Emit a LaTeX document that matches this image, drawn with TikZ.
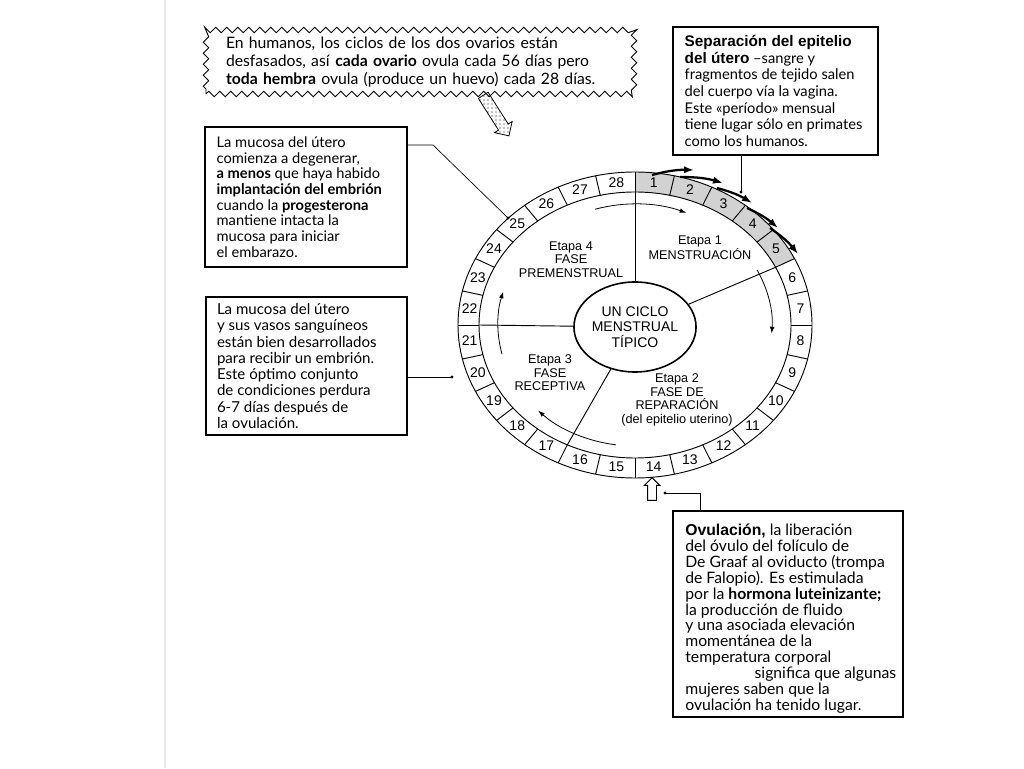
\documentclass[tikz,border=0pt]{standalone}
\usepackage{fontspec}
\setmainfont{Lato}
\newfontfamily\arialf{Liberation Sans}
\usetikzlibrary{shapes.geometric,shapes.arrows,patterns,decorations.pathmorphing,arrows.meta}
\begin{document}
\begin{tikzpicture}[x=0.75pt,y=0.75pt,
 ring/.style={line width=0.7pt},
 frame/.style={draw, line width=0.9pt, inner sep=0pt},
 boxtxt/.style={inner sep=0pt, align=left, anchor=west},
 daynum/.style={font=\arialf\fontsize{10.5}{12}\selectfont, inner sep=0pt},
 lbl/.style={font=\arialf\fontsize{9.5}{10.2}\selectfont, align=center, inner sep=0pt},
 inarrow/.style={line width=0.6pt, -{Latex[length=5pt,width=3.5pt]}},
 blkarrow/.style={line width=1.7pt, -{Latex[length=7.5pt,width=5.5pt]}},
 conn/.style={line width=0.5pt},
 hollow/.style={single arrow, draw, line width=0.7pt, inner xsep=0pt, single arrow head extend=2.5pt}
]
\fill[white] (0,0) rectangle (1024,768);
\useasboundingbox (0,0) rectangle (1024,768);
\draw[gray!18, line width=1pt] (165,0) -- (165,768);

% ---------- ring ----------
\coordinate (C) at (635,443);
\fill[gray!35] ([shift={(90:177 and 153)}]C) arc[start angle=90, end angle=25.714, x radius=177, y radius=153]
  -- ([shift={(25.714:156 and 133)}]C) arc[start angle=25.714, end angle=90, x radius=156, y radius=133] -- cycle;
\draw[ring] (C) ellipse [x radius=177, y radius=153];
\draw[ring] (C) ellipse [x radius=156, y radius=133];
\foreach \k in {0,...,27} {
  \pgfmathsetmacro\t{90-\k*360/28}
  \draw[ring] ([shift={(\t:156 and 133)}]C) -- ([shift={(\t:177 and 153)}]C);
}
\foreach \k in {1,...,28} {
  \pgfmathsetmacro\t{90-(\k-0.5)*360/28}
  \node[daynum] (d\k) at ([shift={(\t:166.5 and 143)}]C) {\k};
}

% ---------- centre and spokes ----------
\node[ellipse, draw, line width=1.2pt, minimum width=83pt, minimum height=67.5pt, inner sep=0pt,
      align=center, font=\arialf\fontsize{10.5}{11.6}\selectfont, fill=white] (ctr) at (635,441)
      {UN CICLO\\MENSTRUAL\\TÍPICO};
\coordinate (s1) at ([shift={(90:156 and 133)}]C);
\coordinate (s2) at ([shift={(25.714:156 and 133)}]C);
\coordinate (s3) at ([shift={(-115.714:156 and 133)}]C);
\coordinate (s4) at ([shift={(180:156 and 133)}]C);
\foreach \s in {s1,s2,s3,s4} { \draw[ring] (ctr) -- (\s); }

% ---------- stage labels ----------
\node[lbl] (e1) at (700,520) {Etapa 1\\MENSTRUACIÓN};
\node[lbl] (e2) at (677,368) {Etapa 2\\FASE DE\\REPARACIÓN\\(del epitelio uterino)};
\node[lbl] (e3) at (550,395) {Etapa 3\\FASE\\RECEPTIVA};
\node[lbl] (e4) at (571,508.5) {Etapa 4\\FASE\\PREMENSTRUAL};

% ---------- inner arrows ----------
\draw[inarrow] ([shift={(107:137 and 121)}]C) arc[start angle=107, end angle=68, x radius=137, y radius=121];
\draw[inarrow] ([shift={(27:137 and 121)}]C) arc[start angle=27, end angle=-4, x radius=137, y radius=121];
\draw[inarrow] ([shift={(-98:137 and 121)}]C) arc[start angle=-98, end angle=-135, x radius=137, y radius=121];
\draw[inarrow] ([shift={(194:137 and 121)}]C) arc[start angle=194, end angle=164, x radius=137, y radius=121];

% ---------- black flow arrows (days 1-5) ----------
\coordinate (a1s) at (652,593); \coordinate (a1e) at (694,598);
\coordinate (a2s) at (680,591); \coordinate (a2e) at (723,585);
\coordinate (a3s) at (717,580); \coordinate (a3e) at (752,565);
\coordinate (a4s) at (747,560); \coordinate (a4e) at (778,540);
\coordinate (a5s) at (770,540); \coordinate (a5e) at (798,514);
\foreach \i in {1,...,5} { \draw[blkarrow] (a\i s) to[bend left=8] (a\i e); }

% ---------- speech bubble ----------
\node[draw, line width=0.7pt, decorate, decoration={zigzag, segment length=8.25pt, amplitude=2pt},
      minimum width=321pt, minimum height=48pt, inner xsep=15pt, inner ysep=0pt,
      text width=291pt, align=left, font={\fontsize{11.8}{13.5}\selectfont\lineskiplimit=-5pt}] (bub) at (420,706)
 {En humanos, los ciclos de los dos ovarios están\\
  desfasados, así \textbf{cada ovario} ovula cada 56 días pero\\
  \textbf{toda hembra} ovula (produce un huevo) cada 28 días.};
\node[single arrow, draw, line width=0.6pt, pattern=dots, rotate=-57.6, minimum height=36pt,
      inner ysep=4pt, inner xsep=0pt, single arrow head extend=3.5pt, anchor=tail] (bubarr) at (483,673) {};

% ---------- text boxes ----------
\node[frame, minimum width=153.75pt, minimum height=96pt] (tr) at (775.5,677) {};
\node[boxtxt, font={\fontsize{11}{12.5}\selectfont\lineskiplimit=-5pt}] (trt) at ([xshift=9pt]tr.west)
 {{\arialf\fontsize{11.5}{12.5}\selectfont\bfseries Separación del epitelio}\\
  {\arialf\fontsize{11.5}{12.5}\selectfont\bfseries del útero} –sangre y\\
  fragmentos de tejido salen\\
  del cuerpo vía la vagina.\\
  Este «período» mensual\\
  tiene lugar sólo en primates\\
  como los humanos.};

\node[frame, minimum width=151.5pt, minimum height=105pt] (b1) at (306,571) {};
\node[boxtxt, font={\fontsize{11}{11.8}\selectfont\lineskiplimit=-5pt}] (b1t) at ([xshift=9pt]b1.west)
 {La mucosa del útero\\
  comienza a degenerar,\\
  \textbf{a menos} que haya habido\\
  \textbf{implantación del embrión}\\
  cuando la \textbf{progesterona}\\
  mantiene intacta la\\
  mucosa para iniciar\\
  el embarazo.};

\node[frame, minimum width=150.75pt, minimum height=103.5pt] (b2) at (306.5,402) {};
\node[boxtxt, font={\fontsize{11.3}{12.2}\selectfont\lineskiplimit=-5pt}] (b2t) at ([xshift=8.5pt]b2.west)
 {La mucosa del útero\\
  y sus vasos sanguíneos\\
  están bien desarrollados\\
  para recibir un embrión.\\
  Este óptimo conjunto\\
  de condiciones perdura\\
  6-7 días después de\\
  la ovulación.};

\node[frame, minimum width=172.5pt, minimum height=154.5pt] (br) at (788,154) {};
\node[boxtxt, font={\fontsize{11.8}{11.9}\selectfont\lineskiplimit=-5pt}] (brt) at ([xshift=9.5pt,yshift=-3.5pt]br.west)
 {{\arialf\bfseries Ovulación,} la liberación\\
  del óvulo del folículo de\\
  De Graaf al oviducto (trompa\\
  de Falopio). Es estimulada\\
  por la \textbf{hormona luteinizante;}\\
  la producción de fluido\\
  y una asociada elevación\\
  momentánea de la\\
  temperatura corporal\\
  \hspace*{52pt}significa que algunas\\
  mujeres saben que la\\
  ovulación ha tenido lugar.};

% ---------- connectors ----------
\coordinate (trdot) at (741,576);
\draw[conn] (tr.south -| trdot) -- (trdot);
\fill (trdot) circle[radius=1.6];

\coordinate (b1k) at (433,623);
\coordinate (b1dot) at (508,550);
\draw[conn] (b1.east |- b1k) -- (b1k) -- (b1dot);
\fill (b1dot) circle[radius=1.6];

\coordinate (b2dot) at (452,391);
\draw[conn] (b2.east |- b2dot) -- (b2dot);
\fill (b2dot) circle[radius=1.6];

\coordinate (brk) at (700,275);
\coordinate (brdot) at (665,275);
\draw[conn] (br.north -| brk) -- (brk) -- (brdot);
\fill (brdot) circle[radius=1.6];

% ---------- ovulation arrow ----------
\node[hollow, rotate=90, minimum height=17pt, inner ysep=3pt, anchor=tip] (ovarr) at (652,291) {};
\end{tikzpicture}
\end{document}
